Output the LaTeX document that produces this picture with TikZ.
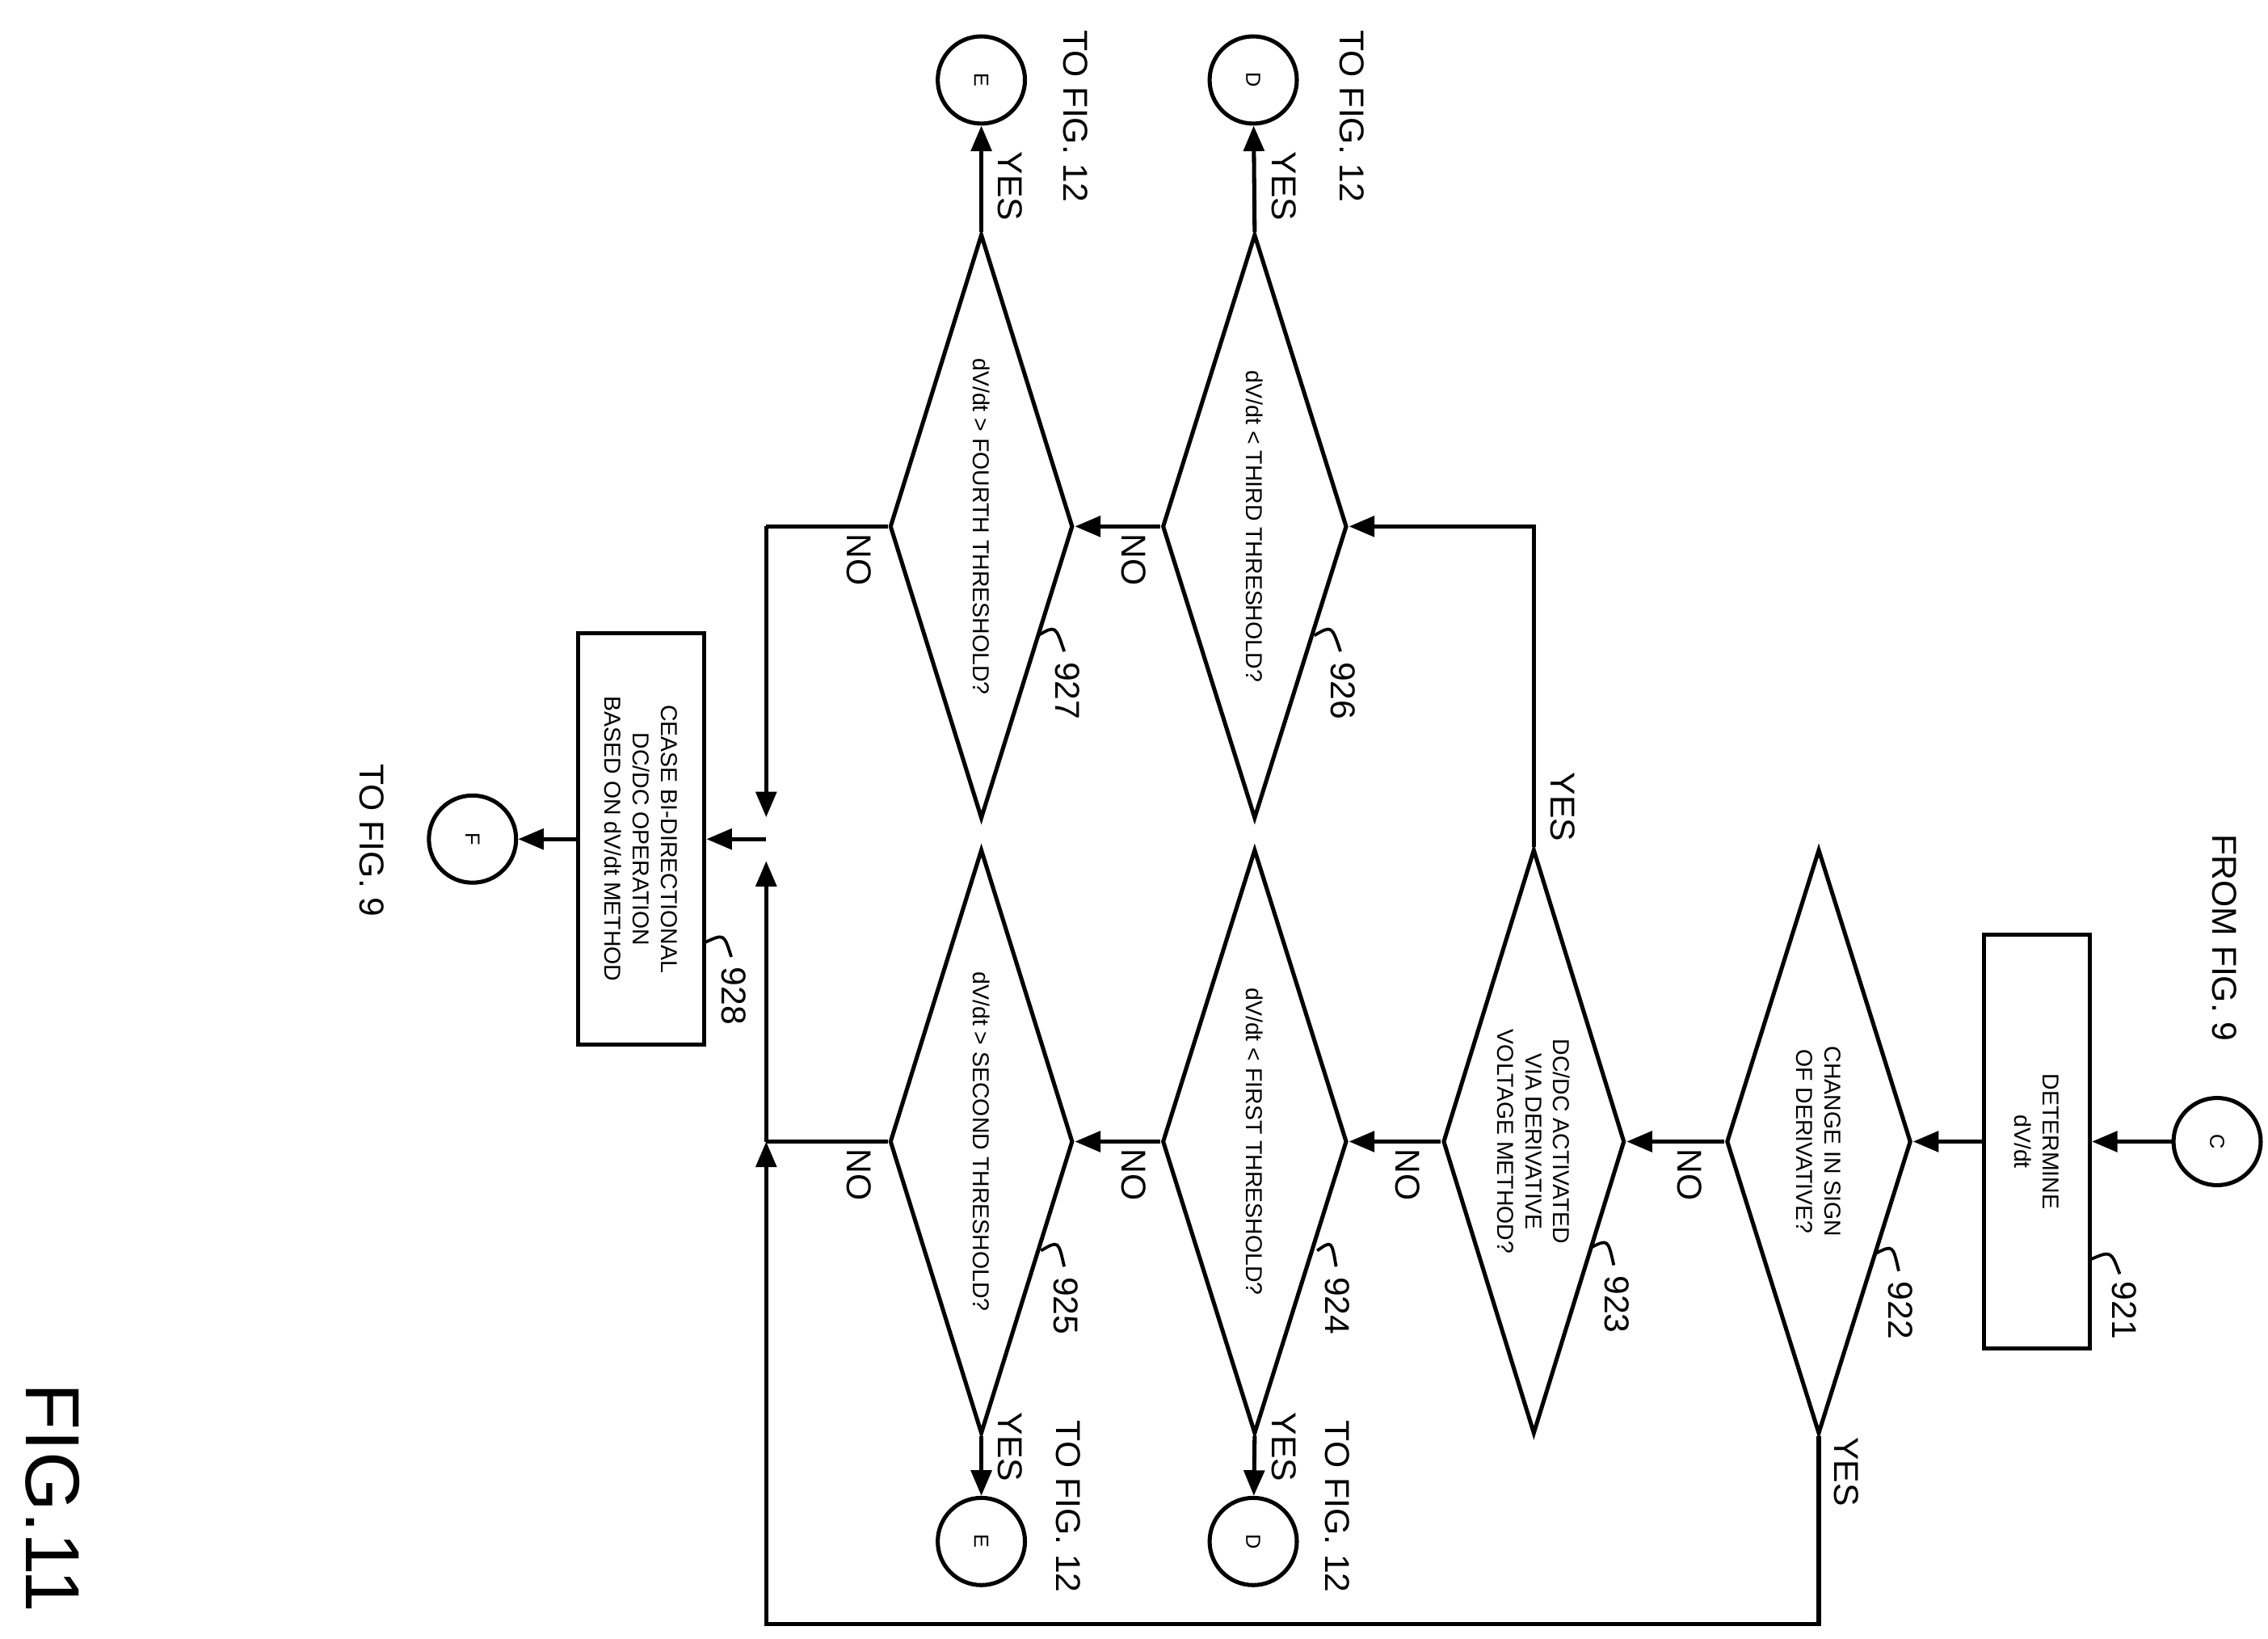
\documentclass[tikz,border=0pt]{standalone}
\usepackage{fontspec}
\setmainfont{Liberation Sans}
\usetikzlibrary{shapes.geometric,arrows.meta}
\begin{document}
\begin{tikzpicture}[x=0.02cm,y=-0.02cm,
  line width=1.6pt,
  arr/.style={-{Triangle[length=10pt,width=8pt]}},
  dia/.style={draw,diamond,inner sep=0pt,minimum width=2.54cm,minimum height=8.04cm},
  dtxt/.style={rotate=-90,font=\fontsize{9}{11}\selectfont,align=center},
  box/.style={draw,rectangle,inner sep=0pt},
  conn/.style={draw,circle,minimum size=1.2cm,inner sep=0pt,font=\fontsize{8}{9}\selectfont},
  lbl/.style={rotate=-90,font=\fontsize{13.5}{15}\selectfont},
  num/.style={rotate=-90,anchor=west,font=\fontsize{13.5}{15}\selectfont,inner sep=1pt},
  lead/.style={line width=1.2pt}]
\useasboundingbox (0,0) rectangle (1560,1127);

\node[conn] (C) at (1525,785) {\rotatebox{-90}{C}};
\node[box,minimum width=1.46cm,minimum height=5.7cm] (b921) at (1401,785) {};
\node[dtxt] at (b921) {DETERMINE\\dV/dt};
\node[dia] (d922) at (1251,785) {};
\node[dtxt] at (d922) {CHANGE IN SIGN\\OF DERIVATIVE?};
\node[dia,minimum width=2.5cm] (d923) at (1055,785) {};
\node[dtxt] at (d923) {DC/DC ACTIVATED\\VIA DERIVATIVE\\VOLTAGE METHOD?};
\node[dia] (d924) at (863,785) {};
\node[dtxt] at (d924) {dV/dt < FIRST THRESHOLD?};
\node[dia,minimum width=2.52cm] (d925) at (675,785) {};
\node[dtxt] at (d925) {dV/dt > SECOND THRESHOLD?};
\node[dia] (d926) at (863,362) {};
\node[dtxt] at (d926) {dV/dt < THIRD THRESHOLD?};
\node[dia,minimum width=2.52cm] (d927) at (675,362) {};
\node[dtxt] at (d927) {dV/dt > FOURTH THRESHOLD?};
\node[box,minimum width=1.74cm,minimum height=5.66cm] (b928) at (441,577) {};
\node[dtxt] at (b928) {CEASE BI-DIRECTIONAL\\DC/DC OPERATION\\BASED ON dV/dt METHOD};
\node[conn] (F) at (325,577) {\rotatebox{-90}{F}};
\node[conn] (D1) at (862,55) {\rotatebox{-90}{D}};
\node[conn] (E1) at (675,55) {\rotatebox{-90}{E}};
\node[conn] (D2) at (862,1060) {\rotatebox{-90}{D}};
\node[conn] (E2) at (675,1060) {\rotatebox{-90}{E}};
\coordinate (m) at (527,577);
\coordinate (j1) at (527,785);
\coordinate (j2) at (527,362);

\draw[arr] (C) -- (b921);
\draw[arr] (b921) -- (d922.east);
\draw[arr] (d922.west) -- (d923.east);
\draw[arr] (d923.west) -- (d924.east);
\draw[arr] (d924.west) -- (d925.east);
\draw[arr] (d926.west) -- (d927.east);
\draw[arr] (d922.south) -- (1251,1117) -- (527,1117) -- (j1);
\draw (d925.west) -- (j1);
\draw[arr] (j1) -- (527,592);
\draw (d927.west) -- (j2);
\draw[arr] (j2) -- (527,562);
\draw[arr] (m) -- (b928.east);
\draw[arr] (b928.west) -- (F);
\draw[arr] (d923.north) -- (1055,362) -- (d926.east);
\draw[arr] (d926.north) -- (D1);
\draw[arr] (d927.north) -- (E1);
\draw[arr] (d924.south) -- (D2);
\draw[arr] (d925.south) -- (E2);

% leaders and numbers
\draw[lead] (1438,866) .. controls (1452,860) .. (1458,876); \node[num] at (1461,878) {921};
\draw[lead] (1290,862) .. controls (1302,856) .. (1306,874); \node[num] at (1307,878) {922};
\draw[lead] (1094,858) .. controls (1106,852) .. (1110,870); \node[num] at (1112,874) {923};
\draw[lead] (906,860) .. controls (916,853) .. (919,871); \node[num] at (920,875) {924};
\draw[lead] (716,860) .. controls (728,853) .. (732,871); \node[num] at (733,875) {925};
\draw[lead] (904,437) .. controls (916,430) .. (922,448); \node[num] at (924,452) {926};
\draw[lead] (714,437) .. controls (726,430) .. (732,448); \node[num] at (734,452) {927};
\draw[lead] (485,648) .. controls (498,642) .. (503,658); \node[num] at (505,662) {928};

% labels
\node[lbl] at (1530,645) {FROM FIG. 9};
\node[lbl] at (1270,1012) {YES};
\node[lbl] at (1075,555) {YES};
\node[lbl] at (883,128) {YES};
\node[lbl] at (695,128) {YES};
\node[lbl] at (883,995) {YES};
\node[lbl] at (695,995) {YES};
\node[lbl] at (1162,808) {NO};
\node[lbl] at (968,808) {NO};
\node[lbl] at (780,808) {NO};
\node[lbl] at (591,808) {NO};
\node[lbl] at (780,385) {NO};
\node[lbl] at (591,385) {NO};
\node[lbl] at (920,1036) {TO FIG. 12};
\node[lbl] at (735,1036) {TO FIG. 12};
\node[lbl] at (930,80) {TO FIG. 12};
\node[lbl] at (740,80) {TO FIG. 12};
\node[lbl] at (256,578) {TO FIG. 9};
\node[rotate=-90,font=\fontsize{30}{32}\selectfont] at (36,1030) {FIG.11};
\end{tikzpicture}
\end{document}
